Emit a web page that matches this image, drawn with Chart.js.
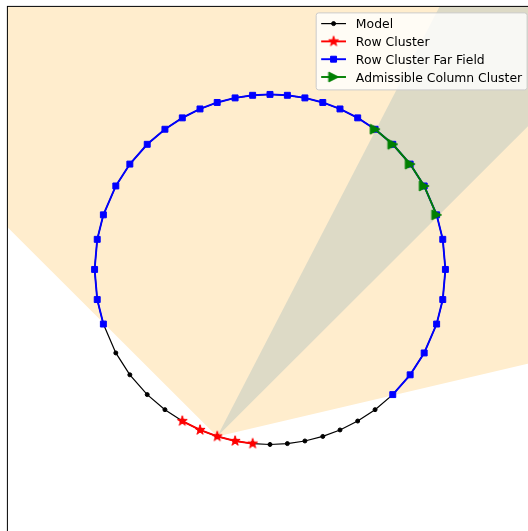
<!DOCTYPE html>
<html>
<head>
<meta charset="utf-8">
<title>Row cluster and admissible column cluster</title>
<script src="https://cdn.jsdelivr.net/npm/chart.js@4.4.1/dist/chart.umd.min.js"></script>
<style>
  html, body { margin: 0; padding: 0; overflow: hidden; background: #fff; }
  canvas { display: block; }
</style>
</head>
<body>
<canvas id="clusterChart" width="540" height="540"></canvas>
<script>
// boundary points of the model, counter-clockwise starting at (1, 0)
const modelX = [
   1.000,  0.985,  0.950,  0.879,  0.799,  0.700,  0.599,  0.500,  0.399,  0.301,  0.199,  0.099,
   0.000, -0.099, -0.199, -0.301, -0.399, -0.500, -0.599, -0.700, -0.799, -0.879, -0.950, -0.985,
  -1.000, -0.985, -0.950, -0.879, -0.799, -0.700, -0.599, -0.500, -0.399, -0.301, -0.199, -0.099,
   0.000,  0.099,  0.199,  0.301,  0.399,  0.500,  0.599,  0.700,  0.799,  0.879,  0.950,  0.985
];
const modelY = [
   0.000,  0.172,  0.312,  0.477,  0.602,  0.715,  0.801,  0.866,  0.917,  0.954,  0.980,  0.995,
   1.000,  0.995,  0.980,  0.954,  0.917,  0.866,  0.801,  0.715,  0.602,  0.477,  0.312,  0.172,
   0.000, -0.172, -0.312, -0.477, -0.602, -0.715, -0.801, -0.866, -0.917, -0.954, -0.980, -0.995,
  -1.000, -0.995, -0.980, -0.954, -0.917, -0.866, -0.801, -0.715, -0.602, -0.477, -0.312, -0.172
];

// which model points belong to each cluster
const rowClusterIdx = [31, 32, 33, 34, 35];
const farFieldIdx = [43, 44, 45, 46, 47, 0, 1, 2, 3, 4, 5, 6, 7, 8, 9, 10, 11, 12, 13,
                     14, 15, 16, 17, 18, 19, 20, 21, 22, 23, 24, 25, 26];
const admissibleIdx = [2, 3, 4, 5, 6];

// cones, apex at the centre of the row cluster
const farConeX = [-0.301, 9.435, 9.435, -7.372, -7.372];
const farConeY = [-0.954, 1.330, 10.0, 10.0, 6.117];
const admissibleConeX = [-0.301, 6.770, 4.286];
const admissibleConeY = [-0.954, 6.117, 7.932];

const legendLabels = ['Model', 'Row Cluster', 'Row Cluster Far Field', 'Admissible Column Cluster'];

function pick(idx) {
  return idx.map(i => ({ x: modelX[i], y: modelY[i] }));
}
function polygon(xs, ys) {
  return xs.map((x, i) => ({ x: x, y: ys[i] }));
}

function starMarker(color, r) {
  const c = document.createElement('canvas');
  c.width = c.height = 16;
  const g = c.getContext('2d');
  g.beginPath();
  for (let k = 0; k < 10; k++) {
    const rad = k % 2 ? r * 0.381966 : r;
    const a = -Math.PI / 2 + k * Math.PI / 5;
    g.lineTo(8 + rad * Math.cos(a), 8 + rad * Math.sin(a));
  }
  g.closePath();
  g.fillStyle = color;
  g.strokeStyle = color;
  g.lineWidth = 1;
  g.fill();
  g.stroke();
  return c;
}

function triangleRightMarker(color, h) {
  const c = document.createElement('canvas');
  c.width = c.height = 16;
  const g = c.getContext('2d');
  g.beginPath();
  g.moveTo(8 + h, 8);
  g.lineTo(8 - h, 8 - h);
  g.lineTo(8 - h, 8 + h);
  g.closePath();
  g.fillStyle = color;
  g.strokeStyle = color;
  g.lineWidth = 1;
  g.fill();
  g.stroke();
  return c;
}

const starRed = starMarker('#ff0000', 5.3);
const triGreen = triangleRightMarker('#008000', 4.9);

const modelPts = pick(modelX.map((_, i) => i).concat([0]));

const datasets = [
  {
    label: legendLabels[0], data: modelPts, order: 3,
    borderColor: '#000000', borderWidth: 1.2,
    pointStyle: 'circle', pointRadius: 2, pointBorderWidth: 1,
    pointBackgroundColor: '#000000', pointBorderColor: '#000000'
  },
  {
    label: legendLabels[1], data: pick(rowClusterIdx), order: 2,
    borderColor: '#ff0000', borderWidth: 1.9,
    pointStyle: starRed, pointRadius: 5
  },
  {
    label: legendLabels[2], data: pick(farFieldIdx), order: 1,
    borderColor: '#0000ff', borderWidth: 1.9,
    pointStyle: 'rect', pointRadius: 4.2, pointBorderWidth: 1,
    pointBackgroundColor: '#0000ff', pointBorderColor: '#0000ff'
  },
  {
    label: legendLabels[3], data: pick(admissibleIdx), order: 0,
    borderColor: '#008000', borderWidth: 1.9,
    pointStyle: triGreen, pointRadius: 5
  },
  {
    label: 'admissible cone', data: polygon(admissibleConeX, admissibleConeY), order: 4,
    fill: 'shape', backgroundColor: 'rgb(221,218,198)',
    borderColor: 'transparent', borderWidth: 0, pointRadius: 0
  },
  {
    label: 'far field cone', data: polygon(farConeX, farConeY), order: 5,
    fill: 'shape', backgroundColor: 'rgb(255,237,205)',
    borderColor: 'transparent', borderWidth: 0, pointRadius: 0
  }
];

// legend entry styles, same order as legendLabels
const legendMarks = [
  { color: '#000000', lw: 1.2, style: 'circle', radius: 2, bw: 1 },
  { color: '#ff0000', lw: 1.9, style: starRed, radius: 5, bw: 0 },
  { color: '#0000ff', lw: 1.9, style: 'rect', radius: 4.2, bw: 1 },
  { color: '#008000', lw: 1.9, style: triGreen, radius: 5, bw: 0 }
];

// axes frame like a matplotlib spine box
const framePlugin = {
  id: 'frame',
  afterDatasetsDraw(chart) {
    const a = chart.chartArea;
    const ctx = chart.ctx;
    ctx.save();
    ctx.strokeStyle = '#000000';
    ctx.lineWidth = 1;
    ctx.strokeRect(a.left + 0.5, a.top - 0.5, a.right - a.left, a.bottom - a.top);
    ctx.restore();
  }
};

function roundBox(ctx, x, y, w, h, r) {
  ctx.beginPath();
  ctx.moveTo(x + r, y);
  ctx.arcTo(x + w, y, x + w, y + h, r);
  ctx.arcTo(x + w, y + h, x, y + h, r);
  ctx.arcTo(x, y + h, x, y, r);
  ctx.arcTo(x, y, x + w, y, r);
  ctx.closePath();
}

const legendPlugin = {
  id: 'mplLegend',
  afterDraw(chart) {
    const ctx = chart.ctx;
    const a = chart.chartArea;
    const fontSize = 12.4;
    const pad = 5, handleLen = 24.8, textPad = 9.9, rowStep = 17.8;
    ctx.save();
    ctx.font = fontSize + 'px "DejaVu Sans"';
    const textW = Math.max(...legendLabels.map(t => ctx.measureText(t).width));
    const w = pad * 2 + handleLen + textPad + textW;
    const h = 77;
    const x0 = a.right - 6 - w;
    const y0 = a.top + 6;

    roundBox(ctx, x0, y0, w, h, 2.5);
    ctx.fillStyle = 'rgba(255,255,255,0.8)';
    ctx.fill();
    ctx.strokeStyle = '#cccccc';
    ctx.lineWidth = 1;
    ctx.stroke();

    legendLabels.forEach((label, k) => {
      const m = legendMarks[k];
      const cy = y0 + 10.7 + k * rowStep;
      const lx = x0 + pad;
      ctx.strokeStyle = m.color;
      ctx.fillStyle = m.color;
      ctx.lineWidth = m.lw;
      ctx.beginPath();
      ctx.moveTo(lx, cy);
      ctx.lineTo(lx + handleLen, cy);
      ctx.stroke();
      ctx.lineWidth = m.bw || 1;
      Chart.helpers.drawPoint(ctx, { pointStyle: m.style, rotation: 0, radius: m.radius, borderWidth: m.bw },
        lx + handleLen / 2, cy);
      ctx.fillStyle = '#000000';
      ctx.textBaseline = 'alphabetic';
      ctx.fillText(label, lx + handleLen + textPad, cy + 4.6);
    });
    ctx.restore();
  }
};

new Chart(document.getElementById('clusterChart'), {
  type: 'line',
  data: { datasets: datasets },
  options: {
    responsive: false,
    animation: false,
    layout: { padding: { left: 6, top: 4, right: 6, bottom: 8 } },
    scales: {
      x: { type: 'linear', min: -1.5, max: 1.5, display: false },
      y: { type: 'linear', min: -1.5, max: 1.5, display: false }
    },
    elements: { line: { tension: 0 } },
    plugins: {
      legend: { display: false },
      tooltip: { enabled: false }
    }
  },
  plugins: [framePlugin, legendPlugin]
});
</script>
</body>
</html>
